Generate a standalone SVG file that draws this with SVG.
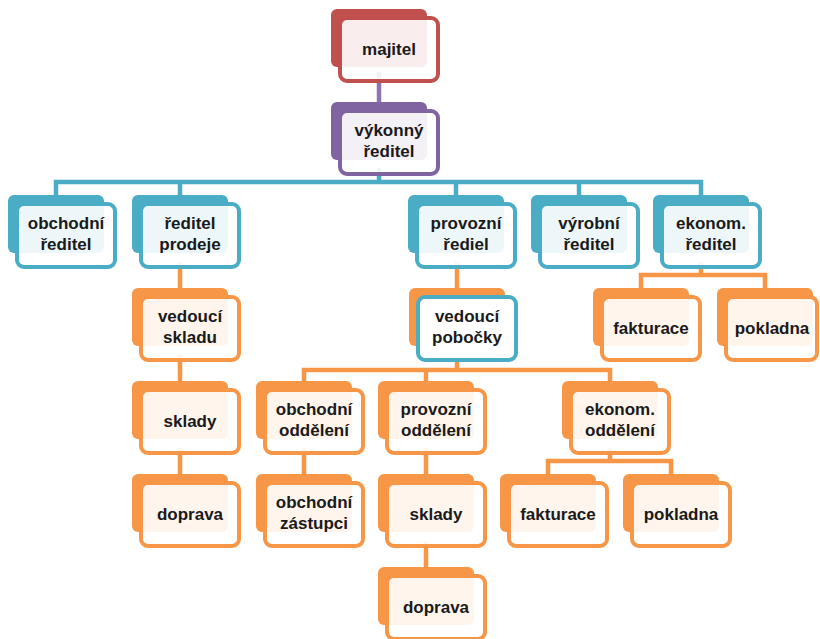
<svg xmlns="http://www.w3.org/2000/svg" width="820" height="639" viewBox="0 0 820 639">
<style>
.back{stroke:none}
.front{stroke-width:4;fill:#ffffff;fill-opacity:0.9}
.red .back{fill:#c0504d}.red .front{stroke:#c0504d}
.pur .back{fill:#8064a2}.pur .front{stroke:#8064a2}
.blu .back{fill:#4bacc6}.blu .front{stroke:#4bacc6}
.org .back{fill:#f79646}.org .front{stroke:#f79646}
.mix .back{fill:#f79646}.mix .front{stroke:#4bacc6;fill-opacity:1}
text{font-family:"Liberation Sans",Arial,sans-serif;font-size:17px;font-weight:bold;fill:#1a1a1a;text-anchor:middle}
.c{fill:none;stroke-width:4.5}
.cp{stroke:#8d74b0}.cb{stroke:#4bacc6}.co{stroke:#f79646}
</style>
<g id="connectors">
<path class="c cp" d="M379 72V102"/>
<path class="c cb" d="M379 168V182M56 195V182H701V195M180 182V195M456 182V195M579 182V195"/>
<path class="c co" d="M180 262V288M180 355V381M180 448V474"/>
<path class="c co" d="M457 262V288"/>
<path class="c co" d="M701 262V275M641 288V275H765V288"/>
<path class="c co" d="M457 355V370M304 381V370H610V381M426 370V381"/>
<path class="c co" d="M304 448V474M426 448V474M426 541V567"/>
<path class="c co" d="M610 448V461M548 474V461H671V474"/>
</g>
<g id="majitel" class="red" transform="translate(331,9)"><rect class="back" width="96" height="58" rx="6"/><rect class="front" x="9" y="9" width="98" height="63" rx="7"/><text x="58" y="46">majitel</text></g>
<g id="vykonny" class="pur" transform="translate(331,102)"><rect class="back" width="96" height="58" rx="6"/><rect class="front" x="9" y="9" width="98" height="63" rx="7"/><text x="58" y="34">výkonný</text><text x="58" y="55">ředitel</text></g>
<g id="obchodni-reditel" class="blu" transform="translate(8,195)"><rect class="back" width="96" height="58" rx="6"/><rect class="front" x="9" y="9" width="98" height="63" rx="7"/><text x="58" y="34">obchodní</text><text x="58" y="55">ředitel</text></g>
<g id="reditel-prodeje" class="blu" transform="translate(132,195)"><rect class="back" width="96" height="58" rx="6"/><rect class="front" x="9" y="9" width="98" height="63" rx="7"/><text x="58" y="34">ředitel</text><text x="58" y="55">prodeje</text></g>
<g id="provozni-rediel" class="blu" transform="translate(408,195)"><rect class="back" width="96" height="58" rx="6"/><rect class="front" x="9" y="9" width="98" height="63" rx="7"/><text x="58" y="34">provozní</text><text x="58" y="55">řediel</text></g>
<g id="vyrobni-reditel" class="blu" transform="translate(531,195)"><rect class="back" width="96" height="58" rx="6"/><rect class="front" x="9" y="9" width="98" height="63" rx="7"/><text x="58" y="34">výrobní</text><text x="58" y="55">ředitel</text></g>
<g id="ekonom-reditel" class="blu" transform="translate(653,195)"><rect class="back" width="96" height="58" rx="6"/><rect class="front" x="9" y="9" width="98" height="63" rx="7"/><text x="58" y="34">ekonom.</text><text x="58" y="55">ředitel</text></g>
<g id="vedouci-skladu" class="org" transform="translate(132,288)"><rect class="back" width="96" height="58" rx="6"/><rect class="front" x="9" y="9" width="98" height="63" rx="7"/><text x="58" y="34">vedoucí</text><text x="58" y="55">skladu</text></g>
<g id="sklady-1" class="org" transform="translate(132,381)"><rect class="back" width="96" height="58" rx="6"/><rect class="front" x="9" y="9" width="98" height="63" rx="7"/><text x="58" y="46">sklady</text></g>
<g id="doprava-1" class="org" transform="translate(132,474)"><rect class="back" width="96" height="58" rx="6"/><rect class="front" x="9" y="9" width="98" height="63" rx="7"/><text x="58" y="46">doprava</text></g>
<g id="vedouci-pobocky" class="mix" transform="translate(409,288)"><rect class="back" width="96" height="58" rx="6"/><rect class="front" x="9" y="9" width="98" height="63" rx="7"/><text x="58" y="34">vedoucí</text><text x="58" y="55">pobočky</text></g>
<g id="fakturace-1" class="org" transform="translate(593,288)"><rect class="back" width="96" height="58" rx="6"/><rect class="front" x="9" y="9" width="98" height="63" rx="7"/><text x="58" y="46">fakturace</text></g>
<g id="pokladna-1" class="org" transform="translate(717,288)"><rect class="back" width="96" height="58" rx="6"/><rect class="front" x="9" y="9" width="91" height="63" rx="7"/><text x="55" y="46">pokladna</text></g>
<g id="obchodni-oddeleni" class="org" transform="translate(256,381)"><rect class="back" width="96" height="58" rx="6"/><rect class="front" x="9" y="9" width="98" height="63" rx="7"/><text x="58" y="34">obchodní</text><text x="58" y="55">oddělení</text></g>
<g id="provozni-oddeleni" class="org" transform="translate(378,381)"><rect class="back" width="96" height="58" rx="6"/><rect class="front" x="9" y="9" width="98" height="63" rx="7"/><text x="58" y="34">provozní</text><text x="58" y="55">oddělení</text></g>
<g id="ekonom-oddeleni" class="org" transform="translate(562,381)"><rect class="back" width="96" height="58" rx="6"/><rect class="front" x="9" y="9" width="98" height="63" rx="7"/><text x="58" y="34">ekonom.</text><text x="58" y="55">oddělení</text></g>
<g id="obchodni-zastupci" class="org" transform="translate(256,474)"><rect class="back" width="96" height="58" rx="6"/><rect class="front" x="9" y="9" width="98" height="63" rx="7"/><text x="58" y="34">obchodní</text><text x="58" y="55">zástupci</text></g>
<g id="sklady-2" class="org" transform="translate(378,474)"><rect class="back" width="96" height="58" rx="6"/><rect class="front" x="9" y="9" width="98" height="63" rx="7"/><text x="58" y="46">sklady</text></g>
<g id="doprava-2" class="org" transform="translate(378,567)"><rect class="back" width="96" height="58" rx="6"/><rect class="front" x="9" y="9" width="98" height="63" rx="7"/><text x="58" y="46">doprava</text></g>
<g id="fakturace-2" class="org" transform="translate(500,474)"><rect class="back" width="96" height="58" rx="6"/><rect class="front" x="9" y="9" width="98" height="63" rx="7"/><text x="58" y="46">fakturace</text></g>
<g id="pokladna-2" class="org" transform="translate(623,474)"><rect class="back" width="96" height="58" rx="6"/><rect class="front" x="9" y="9" width="98" height="63" rx="7"/><text x="58" y="46">pokladna</text></g>
</svg>
